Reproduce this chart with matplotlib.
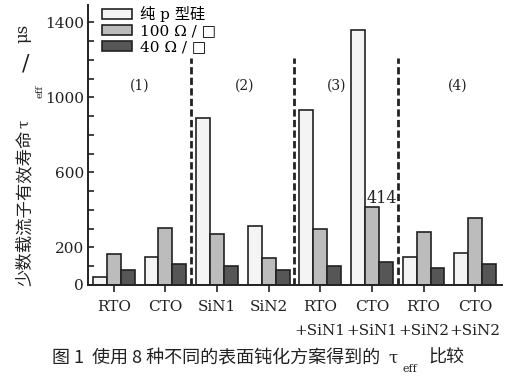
import numpy as np
import matplotlib
matplotlib.use('Agg')
import matplotlib.pyplot as plt
from matplotlib.patches import Patch

# 数据
groups = ['RTO', 'CTO', 'SiN1', 'SiN2', 'RTO\n+SiN1', 'CTO\n+SiN1', 'RTO\n+SiN2', 'CTO\n+SiN2']
pure_p = [44, 151, 892, 316, 933, 1360, 151, 169]
ohm100 = [165, 306, 274, 142, 297, 414, 281, 356]
ohm40 = [78, 112, 100, 78, 100, 124, 91, 110]
series_names = ['纯 p 型硅', '100 Ω / □', '40 Ω / □']
region_labels = ['(1)', '(2)', '(3)', '(4)']
region_x = [0.5, 2.54, 4.32, 6.67]
dividers = [1.5, 3.5, 5.5]
y_labeled = [0, 200, 600, 1000, 1400]

SERIF = ['DejaVu Serif', 'Noto Sans CJK SC', 'DejaVu Sans']
CJK = ['Noto Sans CJK SC', 'DejaVu Sans']
ink = '#222222'
colors = ['#f4f4f4', '#bcbcbc', '#565656']

fig = plt.figure(figsize=(5.28, 3.78), dpi=100)
W, H = 528, 378
ax = fig.add_axes([88 / W, 1 - 285 / H, (502 - 88) / W, (285 - 5) / H])

x = np.arange(len(groups))
bw = 0.27
for k, vals in enumerate([pure_p, ohm100, ohm40]):
    ax.bar(x + (k - 1) * bw, vals, width=bw, color=colors[k],
           edgecolor=ink, linewidth=1.2, zorder=2)

for d in dividers:
    ax.plot([d, d], [0, 1210], color=ink, lw=2.0, dashes=(2.6, 1.2), zorder=1)

for xr, t in zip(region_x, region_labels):
    ax.text(xr, 1061, t, ha='center', va='center', fontsize=10, family=SERIF, color=ink)

ax.text(5 + 0.2, 418, '414', ha='center', va='bottom', fontsize=11.5, family=SERIF, color=ink)

ax.set_xlim(-0.5, 7.52)
ax.set_ylim(0, 1493)
ax.spines['top'].set_visible(False)
ax.spines['right'].set_visible(False)
for s in ['left', 'bottom']:
    ax.spines[s].set_linewidth(1.4)
    ax.spines[s].set_color(ink)

ax.set_yticks(np.arange(0, 1500, 100))
ax.set_yticklabels([str(v) if v in y_labeled else '' for v in np.arange(0, 1500, 100)])
ax.tick_params(axis='y', direction='in', length=4, width=1.2, pad=3, colors=ink, labelsize=11)
ax.set_xticks(x)
ax.set_xticklabels(groups, linespacing=1.9)
ax.tick_params(axis='x', direction='out', length=5, width=1.2, pad=6, colors=ink, labelsize=11)
for lab in ax.get_xticklabels() + ax.get_yticklabels():
    lab.set_family(SERIF)

handles = [Patch(facecolor=c, edgecolor=ink, linewidth=1.2) for c in colors]
ax.legend(handles, series_names, loc='upper left', bbox_to_anchor=(0.035, 0.995),
          frameon=False, prop={'family': SERIF, 'size': 11}, handlelength=1.9,
          handleheight=0.6, labelspacing=0.12, handletextpad=0.55, borderpad=0, borderaxespad=0)


def ftext(px, py, s, **kw):
    fig.text(px / W, 1 - py / H, s, color=ink, **kw)


# y 轴标题（分段放置）
ftext(25, 208, '少数载流子有效寿命', rotation=90, ha='center', va='center', fontsize=12.5, family=CJK)
ftext(24, 124, 'τ', rotation=90, ha='center', va='center', fontsize=11, family=SERIF)
ftext(40, 92, 'eff', rotation=90, ha='center', va='center', fontsize=7, family=SERIF)
ftext(26, 64, '/', ha='center', va='center', fontsize=16, family=SERIF)
ftext(23, 33, 'μs', rotation=90, ha='center', va='center', fontsize=12, family=SERIF)

# 图题
ftext(52, 358, '图 1', ha='left', va='center', fontsize=13, family=CJK)
ftext(92, 358, '使用 8 种不同的表面钝化方案得到的', ha='left', va='center', fontsize=13, family=CJK)
ftext(393, 358, 'τ', ha='center', va='center', fontsize=12, family=SERIF)
ftext(410, 369, 'eff', ha='center', va='center', fontsize=8, family=SERIF)
ftext(428, 358, '比较', ha='left', va='center', fontsize=13, family=CJK)

fig.savefig('out.png', dpi=100)
